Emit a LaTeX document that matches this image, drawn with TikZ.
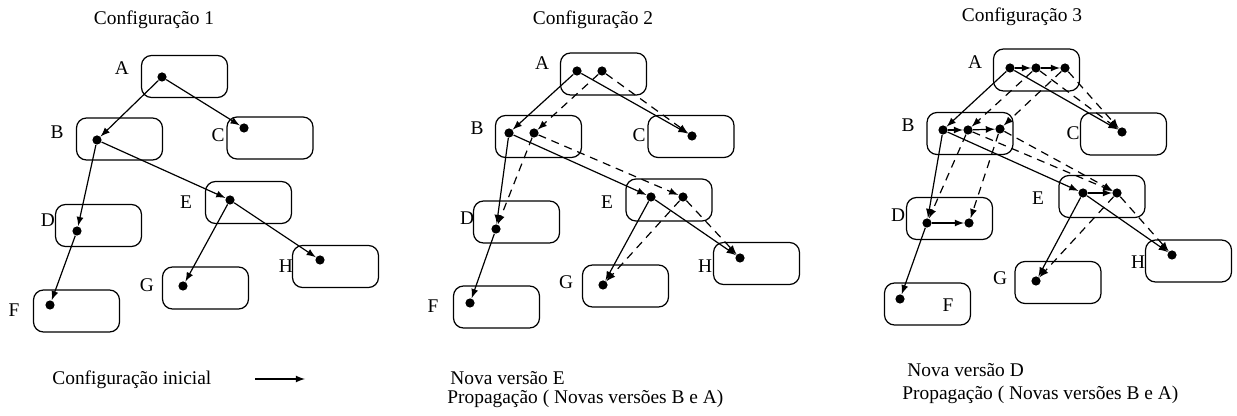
\documentclass[tikz,border=0pt]{standalone}
\usepackage{fontspec}
\setmainfont{Liberation Serif}
\tikzset{
  vbox/.style={draw, rounded corners=5pt, line width=0.6pt, minimum width=43pt, minimum height=21pt, inner sep=0pt},
  vdot/.style={circle, fill, inner sep=0pt, minimum size=4.6pt},
  lbl/.style={font=\rmfamily\fontsize{9.7}{11}\selectfont, inner sep=0pt},
  ref/.style={-latex, line width=0.6pt},
  prop/.style={-latex, line width=0.6pt, dash pattern={on 4pt off 3pt}},
}
\begin{document}
\begin{tikzpicture}[x=0.5pt,y=0.5pt,yscale=-1]
\useasboundingbox (0,0) rectangle (1237,416);

%%%%%%%%%%%%%%%% Configuracao 1 %%%%%%%%%%%%%%%%
% Text Node
\node [lbl] (t1) at (154,20) {Configuração 1};

%Rounded Rect
\node [vbox] (A1box) at (184.5,76.5) {};
\node [vbox] (B1box) at (119.5,139) {};
\node [vbox] (C1box) at (270,138) {};
\node [vbox] (E1box) at (248.5,202.5) {};
\node [vbox] (D1box) at (98.5,225.5) {};
\node [vbox] (H1box) at (335.5,266.5) {};
\node [vbox] (G1box) at (205.5,288) {};
\node [vbox] (F1box) at (76.5,311) {};

% Text Node
\node [lbl] (lA1) at (122,68) {A};
\node [lbl] (lB1) at (57,132) {B};
\node [lbl] (lC1) at (218,135) {C};
\node [lbl] (lE1) at (186,202) {E};
\node [lbl] (lD1) at (48,220) {D};
\node [lbl] (lH1) at (286,266) {H};
\node [lbl] (lG1) at (147,285) {G};
\node [lbl] (lF1) at (14,310) {F};

%Shape: Circle
\node [vdot] (A1v1) at (162,77) {};
\node [vdot] (B1v1) at (97,140) {};
\node [vdot] (C1v1) at (244,128) {};
\node [vdot] (E1v1) at (230,200) {};
\node [vdot] (D1v1) at (77,231) {};
\node [vdot] (H1v1) at (320,260) {};
\node [vdot] (G1v1) at (183,286) {};
\node [vdot] (F1v1) at (50,305) {};

%Straight Lines
\draw [ref] (A1v1) -- (B1v1) ;
\draw [ref] (A1v1) -- (C1v1) ;
\draw [ref] (B1v1) -- (D1v1) ;
\draw [ref] (B1v1) -- (E1v1) ;
\draw [ref] (D1v1) -- (F1v1) ;
\draw [ref] (E1v1) -- (G1v1) ;
\draw [ref] (E1v1) -- (H1v1) ;

% Text Node
\node [lbl, anchor=west] (leg) at (52,380) {Configuração inicial};
\coordinate (legS) at (255,379);
\coordinate (legE) at (305,379);
\draw [ref] (legS) -- (legE) ;

%%%%%%%%%%%%%%%% Configuracao 2 %%%%%%%%%%%%%%%%
% Text Node
\node [lbl] (t2) at (593,20) {Configuração 2};

%Rounded Rect
\node [vbox] (A2box) at (603.5,74) {};
\node [vbox] (B2box) at (538.5,136.5) {};
\node [vbox] (C2box) at (691,136.5) {};
\node [vbox] (E2box) at (669,200) {};
\node [vbox] (D2box) at (516.5,222) {};
\node [vbox] (H2box) at (756.5,263.5) {};
\node [vbox] (G2box) at (625.5,286) {};
\node [vbox] (F2box) at (496.5,307) {};

% Text Node
\node [lbl] (lA2) at (542,63) {A};
\node [lbl] (lB2) at (477,128) {B};
\node [lbl] (lC2) at (639,135) {C};
\node [lbl] (lE2) at (607,202) {E};
\node [lbl] (lD2) at (467,218) {D};
\node [lbl] (lH2) at (705,266) {H};
\node [lbl] (lG2) at (566,282) {G};
\node [lbl] (lF2) at (433,306) {F};

%Shape: Circle
\node [vdot] (A2v1) at (577,71) {};
\node [vdot] (A2v2) at (602,71) {};
\node [vdot] (B2v1) at (509,133) {};
\node [vdot] (B2v2) at (534,133) {};
\node [vdot] (C2v1) at (692,136) {};
\node [vdot] (E2v1) at (651,197) {};
\node [vdot] (E2v2) at (683,197) {};
\node [vdot] (D2v1) at (496,229) {};
\node [vdot] (H2v1) at (740,258) {};
\node [vdot] (G2v1) at (603,285) {};
\node [vdot] (F2v1) at (470,303) {};

%Straight Lines
\draw [ref] (A2v1) -- (B2v1) ;
\draw [ref] (A2v1) -- (C2v1) ;
\draw [ref] (B2v1) -- (D2v1) ;
\draw [ref] (B2v1) -- (E2v1) ;
\draw [ref] (D2v1) -- (F2v1) ;
\draw [ref] (E2v1) -- (G2v1) ;
\draw [ref] (E2v1) -- (H2v1) ;
% new versions, dashed
\draw [prop] (A2v2) -- (B2v2) ;
\draw [prop] (A2v2) -- (C2v1) ;
\draw [prop] (B2v2) -- (D2v1) ;
\draw [prop] (B2v2) -- (E2v2) ;
\draw [prop] (E2v2) -- (G2v1) ;
\draw [prop] (E2v2) -- (H2v1) ;

% Text Node
\node [lbl, anchor=west] (n2a) at (450,378) {Nova versão E};
\node [lbl, anchor=west] (n2b) at (447,399) {Propagação ( Novas versões B e A)};

%%%%%%%%%%%%%%%% Configuracao 3 %%%%%%%%%%%%%%%%
% Text Node
\node [lbl] (t3) at (1022,17) {Configuração 3};

%Rounded Rect
\node [vbox] (A3box) at (1036.5,70) {};
\node [vbox] (B3box) at (970,133.5) {};
\node [vbox] (C3box) at (1123.5,134) {};
\node [vbox] (E3box) at (1102,196.5) {};
\node [vbox] (D3box) at (949.5,218.5) {};
\node [vbox] (H3box) at (1188.5,261) {};
\node [vbox] (G3box) at (1058,282.5) {};
\node [vbox] (F3box) at (927.5,304) {};

% Text Node
\node [lbl] (lA3) at (975,62) {A};
\node [lbl] (lB3) at (908,125) {B};
\node [lbl] (lC3) at (1073,133) {C};
\node [lbl] (lE3) at (1038,198) {E};
\node [lbl] (lD3) at (898,215) {D};
\node [lbl] (lH3) at (1138,262) {H};
\node [lbl] (lG3) at (1000,278) {G};
\node [lbl] (lF3) at (948,305) {F};

%Shape: Circle
\node [vdot] (A3v1) at (1010,68) {};
\node [vdot] (A3v2) at (1036,68) {};
\node [vdot] (A3v3) at (1065,68) {};
\node [vdot] (B3v1) at (943,130) {};
\node [vdot] (B3v2) at (968,130) {};
\node [vdot] (B3v3) at (1000,129) {};
\node [vdot] (C3v1) at (1122,132) {};
\node [vdot] (E3v1) at (1083,193) {};
\node [vdot] (E3v2) at (1117,193) {};
\node [vdot] (D3v1) at (927,223) {};
\node [vdot] (D3v2) at (969,223) {};
\node [vdot] (H3v1) at (1172,255) {};
\node [vdot] (G3v1) at (1036,281) {};
\node [vdot] (F3v1) at (900,299) {};

% version chains
\draw [ref] (A3v1) -- (A3v2) ;
\draw [ref] (A3v2) -- (A3v3) ;
\draw [ref] (B3v1) -- (B3v2) ;
\draw [ref] (B3v2) -- (B3v3) ;
\draw [ref] (E3v1) -- (E3v2) ;
\draw [ref] (D3v1) -- (D3v2) ;

%Straight Lines
\draw [ref] (A3v1) -- (B3v1) ;
\draw [ref] (A3v1) -- (C3v1) ;
\draw [ref] (B3v1) -- (D3v1) ;
\draw [ref] (B3v1) -- (E3v1) ;
\draw [ref] (D3v1) -- (F3v1) ;
\draw [ref] (E3v1) -- (G3v1) ;
\draw [ref] (E3v1) -- (H3v1) ;
% new versions, dashed
\draw [prop] (A3v2) -- (B3v2) ;
\draw [prop] (A3v2) -- (C3v1) ;
\draw [prop] (A3v3) -- (B3v3) ;
\draw [prop] (A3v3) -- (C3v1) ;
\draw [prop] (B3v2) -- (D3v1) ;
\draw [prop] (B3v2) -- (E3v2) ;
\draw [prop] (B3v3) -- (D3v2) ;
\draw [prop] (B3v3) -- (E3v2) ;
\draw [prop] (E3v2) -- (G3v1) ;
\draw [prop] (E3v2) -- (H3v1) ;

% Text Node
\node [lbl, anchor=west] (n3a) at (907,370) {Nova versão D};
\node [lbl, anchor=west] (n3b) at (902,395) {Propagação ( Novas versões B e A)};

\end{tikzpicture}
\end{document}
